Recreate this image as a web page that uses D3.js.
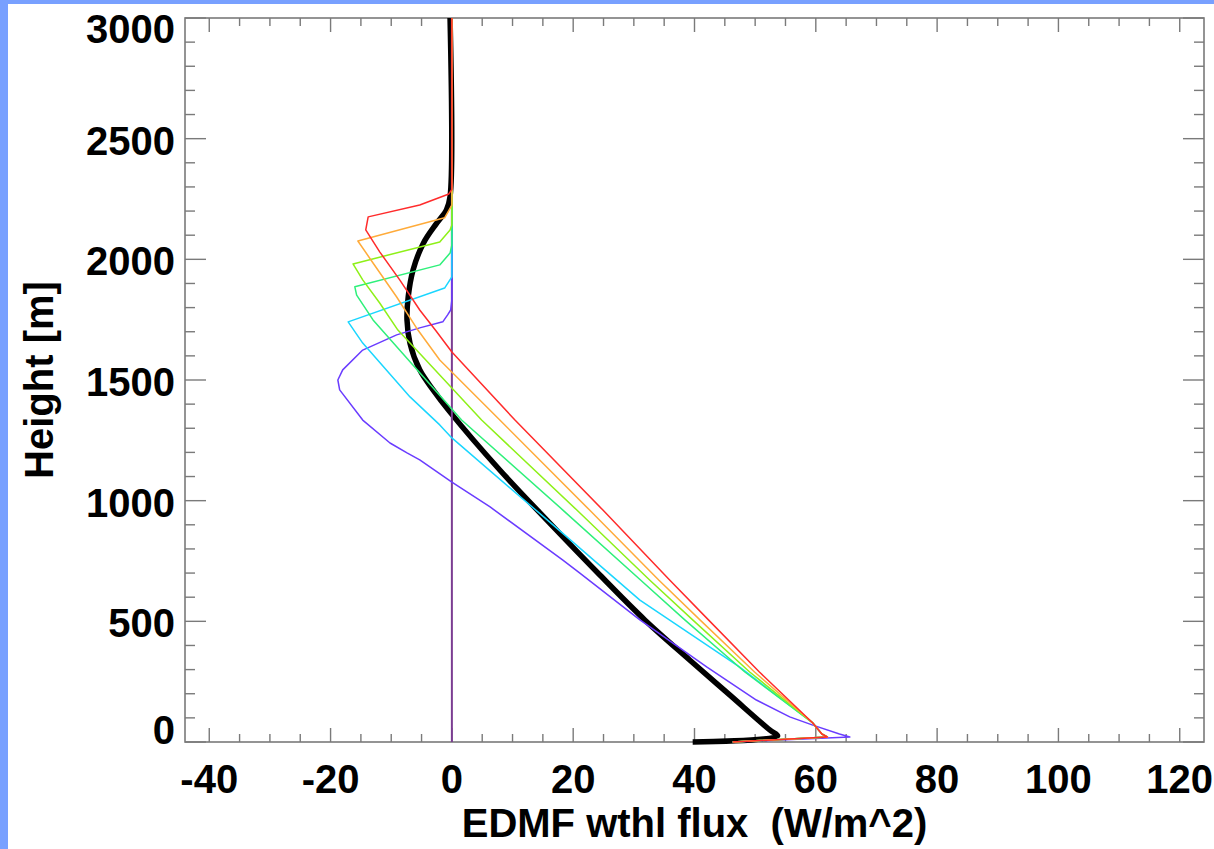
<!DOCTYPE html>
<html>
<head>
<meta charset="utf-8">
<script src="https://cdn.jsdelivr.net/npm/d3@7"></script>
<style>
  html, body { margin: 0; padding: 0; background: #ffffff; }
  svg { display: block; }
  text { font-family: "Liberation Sans", Arial, Helvetica, sans-serif; font-weight: bold; fill: #000; }
</style>
</head>
<body>
<svg id="chart" width="1214" height="849"></svg>
<script>
// ---------------- data (flux W/m^2, height m) ----------------
const xTickValues = [-40, -20, 0, 20, 40, 60, 80, 100, 120];
const yTickValues = [0, 500, 1000, 1500, 2000, 2500, 3000];
const xLabel = "EDMF wthl flux  (W/m^2)";
const yLabel = "Height [m]";

const zeroLine = [[0, 0], [0, 3000]];

const violetCurve = [[0,3000],[0,1832],[-0.2,1790],[-0.7,1770],[-1.5,1741],[-5.3,1716],[-9.1,1687],
  [-14.7,1624],[-18.0,1542],[-18.8,1500],[-18.5,1459],[-14.7,1334],[-10.2,1239],[-7.4,1198],[-5.3,1169],
  [0,1077],[6.3,974],[18.3,754],[21.1,700],[31.0,506],[42.0,311],[50.2,174],[55.7,104],[59.5,70],
  [63.9,33],[65.6,21],[46.3,0]];
const cyanCurve = [[0,3000],[0,1927],[-1.2,1881],[-17.1,1741],[-14.7,1653],[-6.9,1430],[-2.0,1314],
  [0,1260],[16.1,912],[31.0,588],[47.4,311],[59.5,79],[61.0,33],[61.9,21],[46.3,0]];
const greenCurve = [[0,3000],[0,2060],[-0.3,2026],[-2.0,1977],[-16.0,1886],[-15.7,1852],[-13.0,1749],
  [1.6,1334],[18.3,961],[31.1,671],[38.4,506],[48.3,290],[59.5,79],[61.0,33],[61.9,21],[46.3,0]];
const limeCurve = [[0,3000],[0,2142],[-0.3,2122],[-2.0,2072],[-16.3,1981],[-14.7,1915],[-11.9,1819],
  [-8.9,1707],[4.9,1334],[20.6,961],[32.6,671],[39.7,506],[49.1,290],[59.5,79],[61.0,33],[61.9,21],[46.3,0]];
const orangeCurve = [[0,3000],[0,2225],[-1.2,2172],[-15.5,2076],[-13.0,1985],[-9.1,1844],[-5.6,1707],
  [-2.0,1583],[7.9,1334],[22.7,961],[34.1,671],[40.9,506],[49.9,290],[59.5,79],[61.0,33],[61.9,21],[46.3,0]];
const redCurve = [[0,3000],[0,2290],[-0.5,2271],[-5.3,2225],[-13.8,2176],[-14.2,2122],[-11.9,2031],
  [-8.6,1915],[-5.3,1790],[-2.6,1703],[0,1616],[10.4,1334],[24.9,961],[35.9,671],[42.3,506],
  [50.7,290],[59.5,79],[61.0,33],[61.9,21],[46.3,0]];
const meanCurve = [[-0.3,3000],[-0.3,2260],[-0.9,2205],[-2.5,2150],[-4.7,2067],[-6.4,1956],[-7.2,1845],
  [-7.4,1749],[-6.9,1652],[-5.3,1542],[-3.1,1459],[-0.4,1370],[7.9,1127],[16.1,908],
  [24.4,692],[31.8,506],[39.2,340],[45.8,195],[52.4,50],[53.7,25],[39.7,0]];

const colouredSeries = [
  { data: violetCurve, color: "#6a3cff" },
  { data: cyanCurve,   color: "#1ad6ff" },
  { data: greenCurve,  color: "#2ef07a" },
  { data: limeCurve,   color: "#8ef018" },
  { data: orangeCurve, color: "#ffab3a" },
  { data: redCurve,    color: "#ff2b2b" }
];

// ---------------- layout ----------------
const svg = d3.select("#chart");
const L = 185, R = 1204, T = 18, B = 742;
const x = d3.scaleLinear().domain([-44, 124]).range([L, R]);
const y = d3.scaleLinear().domain([0, 3000]).range([B, T]);

// page frame (blue bands)
svg.append("rect").attr("x", 0).attr("y", 0).attr("width", 1214).attr("height", 4).attr("fill", "#78a0ff");
svg.append("rect").attr("x", 0).attr("y", 0).attr("width", 8).attr("height", 849).attr("fill", "#78a0ff");

const axisColor = "#7a7a7a";
const g = svg.append("g");

// ticks
const xMinor = d3.range(-40, 121, 5);
const yMinor = d3.range(0, 3001, 100);
const tickG = g.append("g").attr("stroke", axisColor).attr("stroke-width", 1.4);
xMinor.forEach(v => {
  const major = v % 20 === 0;
  const len = major ? 14 : 8;
  tickG.append("line").attr("x1", x(v)).attr("x2", x(v)).attr("y1", B).attr("y2", B - len);
  tickG.append("line").attr("x1", x(v)).attr("x2", x(v)).attr("y1", T).attr("y2", T + len);
});
yMinor.forEach(v => {
  const major = v % 500 === 0;
  const len = major ? 21 : 10;
  tickG.append("line").attr("y1", y(v)).attr("y2", y(v)).attr("x1", L).attr("x2", L + len);
  tickG.append("line").attr("y1", y(v)).attr("y2", y(v)).attr("x1", R).attr("x2", R - len);
});
g.append("rect").attr("x", L).attr("y", T).attr("width", R - L).attr("height", B - T)
  .attr("fill", "none").attr("stroke", axisColor).attr("stroke-width", 1.6);

// lines
const line = d3.line().x(d => x(d[0])).y(d => y(d[1]));
const smooth = d3.line().x(d => x(d[0])).y(d => y(d[1])).curve(d3.curveCatmullRom.alpha(0.5));

g.append("path").datum(meanCurve).attr("d", smooth).attr("fill", "none")
  .attr("stroke", "#000").attr("stroke-width", 5.5).attr("stroke-linejoin", "round");
g.append("path").datum(zeroLine).attr("d", line).attr("fill", "none")
  .attr("stroke", "#7b3d92").attr("stroke-width", 2);
colouredSeries.forEach(s => {
  g.append("path").datum(s.data).attr("d", line).attr("fill", "none")
    .attr("stroke", s.color).attr("stroke-width", 1.5).attr("stroke-linejoin", "round");
});

// tick labels
const fs = 40;
xTickValues.forEach(v => {
  svg.append("text").attr("x", x(v)).attr("y", 793).attr("text-anchor", "middle")
    .attr("font-size", fs).text(v);
});
yTickValues.forEach(v => {
  const cy = Math.max(29, Math.min(730, y(v) + 2));
  svg.append("text").attr("x", 175).attr("y", cy + 14).attr("text-anchor", "end")
    .attr("font-size", fs).text(v);
});

// axis titles
svg.append("text").attr("x", (L + R) / 2).attr("y", 837).attr("text-anchor", "middle")
  .attr("font-size", fs).style("white-space", "pre").attr("xml:space", "preserve").text(xLabel);
svg.append("text").attr("transform", `translate(53,${(T + B) / 2}) rotate(-90)`)
  .attr("text-anchor", "middle").attr("font-size", fs).text(yLabel);
</script>
</body>
</html>
